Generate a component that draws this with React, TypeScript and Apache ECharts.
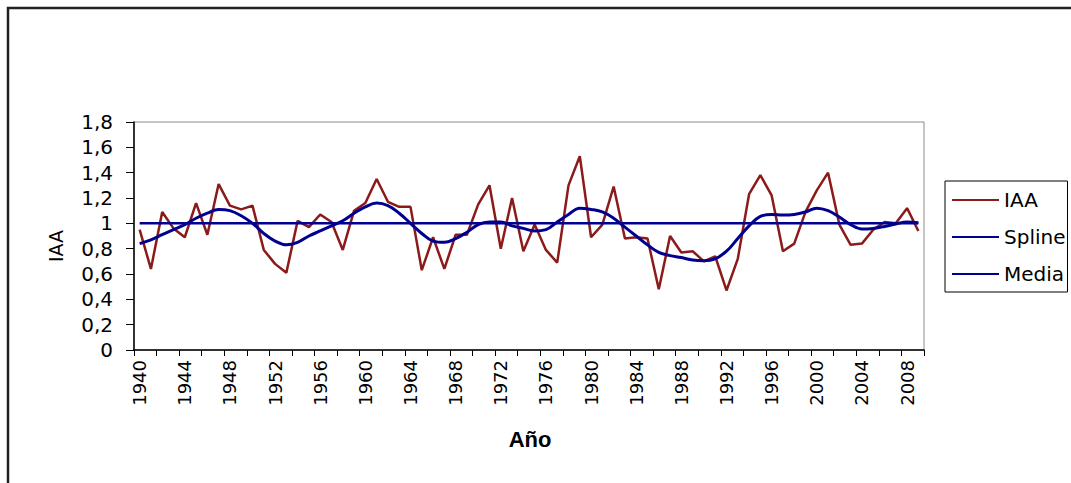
import React, { useEffect, useRef } from "react";
import * as echarts from "echarts";

const years = [
  "1940", "1941", "1942", "1943", "1944", "1945", "1946", "1947", "1948", "1949",
  "1950", "1951", "1952", "1953", "1954", "1955", "1956", "1957", "1958", "1959",
  "1960", "1961", "1962", "1963", "1964", "1965", "1966", "1967", "1968", "1969",
  "1970", "1971", "1972", "1973", "1974", "1975", "1976", "1977", "1978", "1979",
  "1980", "1981", "1982", "1983", "1984", "1985", "1986", "1987", "1988", "1989",
  "1990", "1991", "1992", "1993", "1994", "1995", "1996", "1997", "1998", "1999",
  "2000", "2001", "2002", "2003", "2004", "2005", "2006", "2007", "2008", "2009",
];

const iaa = [
  0.95, 0.64, 1.09, 0.96, 0.89, 1.16, 0.91, 1.31, 1.14, 1.11,
  1.14, 0.79, 0.68, 0.61, 1.02, 0.97, 1.07, 1.01, 0.79, 1.1,
  1.16, 1.35, 1.17, 1.13, 1.13, 0.63, 0.89, 0.64, 0.91, 0.91,
  1.15, 1.3, 0.8, 1.2, 0.78, 0.99, 0.79, 0.69, 1.3, 1.53,
  0.89, 0.99, 1.29, 0.88, 0.89, 0.88, 0.48, 0.9, 0.77, 0.78,
  0.7, 0.74, 0.47, 0.72, 1.23, 1.38, 1.22, 0.78, 0.84, 1.09,
  1.26, 1.4, 0.99, 0.83, 0.84, 0.95, 1.01, 1.0, 1.12, 0.94,
];

const spline = [
  0.84, 0.87, 0.91, 0.95, 0.99, 1.04, 1.08, 1.11, 1.1, 1.06,
  1.0, 0.92, 0.86, 0.83, 0.85, 0.9, 0.94, 0.98, 1.02, 1.08,
  1.13, 1.16, 1.14, 1.08, 1.0, 0.92, 0.86, 0.85, 0.88, 0.93,
  0.99, 1.01, 1.01, 0.98, 0.96, 0.94, 0.95, 1.01, 1.07, 1.12,
  1.11, 1.09, 1.04, 0.97, 0.9, 0.83, 0.77, 0.745, 0.73, 0.71,
  0.705, 0.72, 0.78, 0.88, 0.98, 1.055, 1.07, 1.065, 1.07, 1.09,
  1.12, 1.1, 1.05, 0.99, 0.955, 0.96, 0.975, 0.995, 1.01, 1.005,
];

const mediaValue = 1.0;

const seriesNames = ["IAA", "Spline", "Media"];
const FONT = "'DejaVu Sans', 'Liberation Sans', Arial, sans-serif";
const TITLE_FONT = "'Liberation Sans', Arial, sans-serif";

export default function App() {
  const ref = useRef<HTMLDivElement>(null);

  useEffect(() => {
    if (!ref.current) return;
    const chart = echarts.init(ref.current, undefined, { renderer: "svg" });
    const red = "#8B1A1A";
    const blue = "#000090";
    chart.setOption({
      animation: false,
      backgroundColor: "#ffffff",
      textStyle: { fontFamily: FONT },
      grid: {
        left: 134,
        right: 147,
        top: 122,
        bottom: 133,
        show: true,
        borderColor: "#8c8c8c",
        borderWidth: 1,
        backgroundColor: "transparent",
      },
      legend: {
        data: seriesNames,
        orient: "vertical",
        left: 945,
        top: 181,
        icon: "rect",
        itemWidth: 47,
        itemHeight: 2,
        itemGap: 17,
        padding: [9, 2, 8, 7],
        borderColor: "#000",
        borderWidth: 1,
        textStyle: { fontSize: 20, color: "#000", fontFamily: FONT, lineHeight: 20 },
      },
      xAxis: {
        type: "category",
        data: years,
        boundaryGap: true,
        axisLine: { show: true, lineStyle: { color: "#000", width: 1.5 } },
        axisTick: { show: true, interval: 1, length: 6, lineStyle: { color: "#000", width: 1 } },
        axisLabel: {
          interval: 3,
          rotate: 90,
          fontSize: 18,
          color: "#000",
          fontFamily: FONT,
          margin: 10,
        },
        splitLine: { show: false },
      },
      yAxis: {
        type: "value",
        min: 0,
        max: 1.8,
        interval: 0.2,
        axisLine: { show: true, lineStyle: { color: "#000", width: 1.5 } },
        axisTick: { show: true, length: 8, lineStyle: { color: "#000", width: 1 } },
        axisLabel: {
          fontSize: 20,
          color: "#000",
          fontFamily: FONT,
          margin: 21,
          formatter: (v: number) => String(Number(v.toFixed(1))).replace(".", ","),
        },
        splitLine: { show: false },
      },
      graphic: [
        {
          type: "rect",
          z: -10,
          shape: { x: 8, y: 8, width: 1100, height: 520 },
          style: { fill: "none", stroke: "#222", lineWidth: 2.5 },
          silent: true,
        },
        {
          type: "text",
          x: 530,
          y: 439,
          style: {
            text: "Año",
            font: `bold 22px ${TITLE_FONT}`,
            fill: "#000",
            textAlign: "center",
            textVerticalAlign: "middle",
          },
        },
        {
          type: "text",
          x: 56,
          y: 246,
          rotation: Math.PI / 2,
          style: {
            text: "IAA",
            font: `19px ${FONT}`,
            fill: "#000",
            textAlign: "center",
            textVerticalAlign: "middle",
          },
        },
      ],
      series: [
        {
          name: seriesNames[0],
          type: "line",
          data: iaa,
          symbol: "none",
          lineStyle: { color: red, width: 2.5 },
          itemStyle: { color: red },
        },
        {
          name: seriesNames[1],
          type: "line",
          data: spline,
          smooth: 0.4,
          symbol: "none",
          lineStyle: { color: blue, width: 3 },
          itemStyle: { color: blue },
        },
        {
          name: seriesNames[2],
          type: "line",
          data: years.map(() => mediaValue),
          symbol: "none",
          lineStyle: { color: blue, width: 2.5 },
          itemStyle: { color: blue },
        },
      ],
    });
    return () => chart.dispose();
  }, []);

  return (
    <div
      ref={ref}
      style={{ position: "fixed", left: 0, top: 0, width: "1071px", height: "483px" }}
    />
  );
}
